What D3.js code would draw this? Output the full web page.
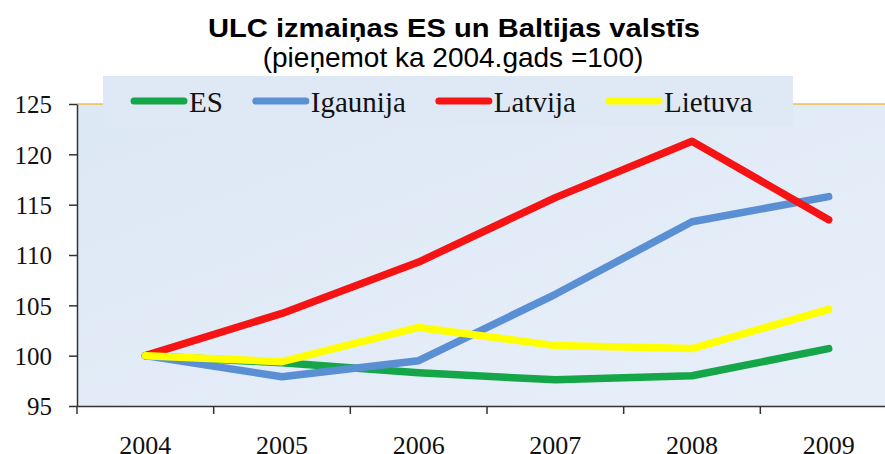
<!DOCTYPE html>
<html>
<head>
  <meta charset="utf-8">
  <script src="https://d3js.org/d3.v7.min.js"></script>
  <style>
    body { margin: 0; background: #fff; }
    .title { font-family: "Liberation Sans", Arial, sans-serif; font-weight: bold; font-size: 26px; fill: #000; }
    .subtitle { font-family: "Liberation Sans", Arial, sans-serif; font-size: 28px; fill: #000; }
    .axis text { font-family: "Liberation Serif", "Times New Roman", serif; fill: #111; }
    .axis--y text { font-size: 25px; }
    .axis--x text { font-size: 26px; }
    .axis path, .axis line { stroke: #333; stroke-width: 1.5px; }
    .legend text { font-family: "Liberation Serif", "Times New Roman", serif; font-size: 29px; fill: #111; }
    .line { fill: none; stroke-width: 7.5; stroke-linejoin: round; stroke-linecap: round; }
  </style>
</head>
<body>
  <svg id="chart" width="885" height="454"></svg>
  <script>
    var years = ["2004", "2005", "2006", "2007", "2008", "2009"];
    var yTicks = [95, 100, 105, 110, 115, 120, 125];

    var seriesNames = ["ES", "Igaunija", "Latvija", "Lietuva"];
    var seriesColors = ["#16a64a", "#5b8fd3", "#f51313", "#ffff00"];

    var esValues = [100, 99.3, 98.3, 97.6, 98.0, 100.7];
    var igaunijaValues = [100, 97.9, 99.5, 106.1, 113.3, 115.8];
    var latvijaValues = [100, 104.2, 109.3, 115.7, 121.3, 113.5];
    var lietuvaValues = [100, 99.4, 102.8, 101.0, 100.7, 104.6];

    var series = [esValues, igaunijaValues, latvijaValues, lietuvaValues].map(function(vals, i) {
      return { name: seriesNames[i], color: seriesColors[i], values: vals };
    });

    var svg = d3.select("#chart");

    var plotLeft = 77, plotRight = 897, plotTop = 104, plotBottom = 406;

    var x = d3.scaleBand().domain(years).range([plotLeft, plotRight]);
    var y = d3.scaleLinear().domain([95, 125]).range([plotBottom, plotTop]);

    // plot background
    var defs = svg.append("defs");
    var grad = defs.append("linearGradient").attr("id", "bg")
      .attr("x1", "0").attr("y1", "0").attr("x2", "1").attr("y2", "1");
    grad.append("stop").attr("offset", "0%").attr("stop-color", "#dde8f5");
    grad.append("stop").attr("offset", "100%").attr("stop-color", "#e7eff9");

    svg.append("rect")
      .attr("x", plotLeft).attr("y", plotTop)
      .attr("width", 885 - plotLeft).attr("height", plotBottom - plotTop)
      .attr("fill", "url(#bg)");

    // thin orange line on top edge
    svg.append("line")
      .attr("x1", plotLeft).attr("x2", 885)
      .attr("y1", y(125)).attr("y2", y(125))
      .attr("stroke", "#f0bc4c").attr("stroke-width", 1.5);

    // titles
    svg.append("text").attr("class", "title")
      .attr("x", 454).attr("y", 37)
      .attr("text-anchor", "middle")
      .attr("textLength", 492).attr("lengthAdjust", "spacingAndGlyphs")
      .text("ULC izmaiņas ES un Baltijas valstīs");

    svg.append("text").attr("class", "subtitle")
      .attr("x", 453).attr("y", 67)
      .attr("text-anchor", "middle")
      .text("(pieņemot ka 2004.gads =100)");

    // y axis
    var yAxis = svg.append("g")
      .attr("class", "axis axis--y")
      .attr("transform", "translate(" + plotLeft + ",0)")
      .call(d3.axisLeft(y).tickValues(yTicks).tickSize(8).tickSizeOuter(0).tickPadding(17));
    yAxis.attr("font-family", null).attr("font-size", null);
    yAxis.selectAll("text").attr("dy", "0.35em")
      .style("font-family", "'Liberation Serif', 'Times New Roman', serif");

    // x axis (labels at band centres, ticks at band edges)
    var xAxis = svg.append("g")
      .attr("class", "axis axis--x")
      .attr("transform", "translate(0," + plotBottom + ")")
      .call(d3.axisBottom(x).tickSize(0).tickSizeOuter(0).tickPadding(30));
    xAxis.attr("font-family", null).attr("font-size", null);
    xAxis.selectAll(".tick text").attr("dy", "0.71em")
      .style("font-family", "'Liberation Serif', 'Times New Roman', serif");
    xAxis.selectAll(".edge")
      .data(years)
      .enter().append("line")
      .attr("class", "edge")
      .attr("x1", function(d) { return x(d); })
      .attr("x2", function(d) { return x(d); })
      .attr("y1", 0).attr("y2", 8);

    // lines
    var line = d3.line()
      .x(function(d, i) { return x(years[i]) + x.bandwidth() / 2; })
      .y(function(d) { return y(d); });

    svg.selectAll(".line")
      .data(series)
      .enter().append("path")
      .attr("class", "line")
      .attr("stroke", function(d) { return d.color; })
      .attr("d", function(d) { return line(d.values); });

    // legend
    var legend = svg.append("g").attr("class", "legend");
    legend.append("rect")
      .attr("x", 103).attr("y", 76)
      .attr("width", 690).attr("height", 50)
      .attr("fill", "#dfe9f5");

    var lx = 131;
    series.forEach(function(s) {
      legend.append("line")
        .attr("x1", lx + 3).attr("x2", lx + 53)
        .attr("y1", 101).attr("y2", 101)
        .attr("stroke", s.color).attr("stroke-width", 7)
        .attr("stroke-linecap", "round");
      var t = legend.append("text")
        .attr("x", lx + 58).attr("y", 112)
        .text(s.name);
      lx = lx + 58 + t.node().getComputedTextLength() + 30;
    });
  </script>
</body>
</html>
